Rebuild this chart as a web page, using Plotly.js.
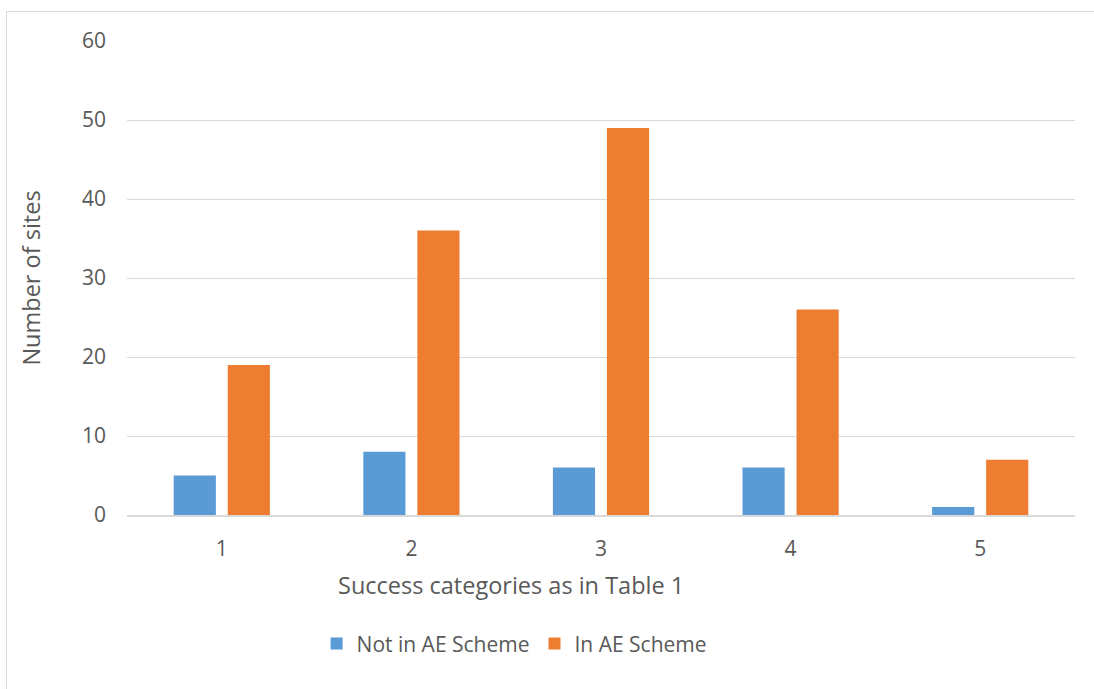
<!DOCTYPE html>
<html><head><meta charset="utf-8">
<script src="https://cdn.plot.ly/plotly-3.0.1.min.js"></script>
<style>
html,body{margin:0;padding:0;background:#fff;overflow:hidden;}
#frame{position:absolute;left:6px;top:11px;width:1100px;height:700px;border:1.5px solid #d9d9d9;box-sizing:border-box;}
#chart{position:absolute;left:0;top:0;width:1094px;height:689px;}
</style></head>
<body>
<div id="frame"></div>
<div id="chart"></div>
<script>
const categories = ['1','2','3','4','5'];
const notInAE = [5, 8, 6, 6, 1];
const inAE = [19, 36, 49, 26, 7];
const seriesNames = ['Not in AE Scheme', 'In AE Scheme'];
const yTicks = [0, 10, 20, 30, 40, 50, 60];
const xTitle = 'Success categories as in Table 1';
const yTitle = 'Number of sites';

const font = {family: 'Open Sans, Liberation Sans, sans-serif', color: '#595959'};
const data = [
  {type: 'bar', x: categories, y: notInAE, name: seriesNames[0], marker: {color: '#5b9bd5'}},
  {type: 'bar', x: categories, y: inAE, name: seriesNames[1], marker: {color: '#ed7d31'}}
];
const layout = {
  width: 1094, height: 689,
  paper_bgcolor: 'rgba(0,0,0,0)', plot_bgcolor: 'rgba(0,0,0,0)',
  margin: {l: 127, r: 19, t: 41, b: 174},
  barmode: 'group', bargap: 0.43, bargroupgap: 0.22,
  font: Object.assign({size: 21}, font),
  xaxis: {
    type: 'category', showgrid: false, showline: true, linecolor: '#d9d9d9', linewidth: 1.5,
    ticks: '', tickfont: Object.assign({size: 21}, font), ticklabelstandoff: 14, automargin: false
  },
  yaxis: {
    range: [0, 60], tickvals: yTicks, showgrid: true, gridcolor: '#d9d9d9', gridwidth: 1,
    zeroline: false, showline: false, ticks: '', ticklen: 0, ticklabelstandoff: 20, automargin: false,
    tickfont: Object.assign({size: 21}, font),
    title: {text: yTitle, font: Object.assign({size: 23.5}, font), standoff: 34}
  },
  annotations: [{
    text: xTitle, xref: 'paper', yref: 'paper', x: 0.405, y: -0.148,
    xanchor: 'center', yanchor: 'middle', showarrow: false,
    font: Object.assign({size: 23.5}, font)
  }],
  legend: {orientation: 'h', x: 0.2, xanchor: 'left', y: -0.272, yanchor: 'middle',
    font: Object.assign({size: 21}, font), traceorder: 'normal', itemwidth: 30},
  showlegend: true
};
Plotly.newPlot('chart', data, layout, {displayModeBar: false, staticPlot: true});
</script>
</body></html>
